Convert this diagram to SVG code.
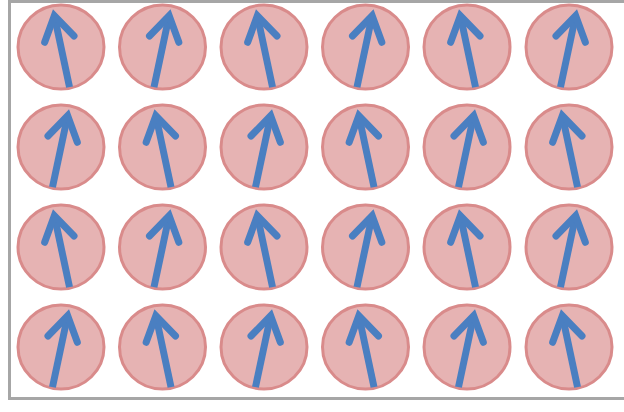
<svg xmlns="http://www.w3.org/2000/svg" width="624" height="412" viewBox="0 0 624 412">
<style>
.c{fill:#e6b3b3;stroke:#d98b8b;stroke-width:3}
.sh{fill:none;stroke:#4a7fc1;stroke-width:7;stroke-linecap:butt}
.hd{fill:none;stroke:#4a7fc1;stroke-width:7;stroke-linecap:round;stroke-linejoin:miter;stroke-miterlimit:10}
.frame{fill:#fff;stroke:#a6a6a6;stroke-width:3}
</style>
<defs>
<g id="spin">
<ellipse class="c" cx="0" cy="0" rx="43" ry="42"/>
</g>
<g id="arrow">
<path class="sh" d="M0,41 L0,-28"/>
<path class="hd" d="M-15,-8 L0,-32 L15,-8"/>
</g>
</defs>
<rect class="frame" x="9.5" y="1.5" width="620" height="397"/>
<g id="r1c1"><use href="#spin" x="61" y="47"/><use href="#arrow" transform="translate(61,47) rotate(-12)"/></g>
<g id="r1c2"><use href="#spin" x="162.5" y="47"/><use href="#arrow" transform="translate(162.5,47) rotate(12)"/></g>
<g id="r1c3"><use href="#spin" x="264" y="47"/><use href="#arrow" transform="translate(264,47) rotate(-12)"/></g>
<g id="r1c4"><use href="#spin" x="365.5" y="47"/><use href="#arrow" transform="translate(365.5,47) rotate(12)"/></g>
<g id="r1c5"><use href="#spin" x="467" y="47"/><use href="#arrow" transform="translate(467,47) rotate(-12)"/></g>
<g id="r1c6"><use href="#spin" x="569" y="47"/><use href="#arrow" transform="translate(569,47) rotate(12)"/></g>
<g id="r2c1"><use href="#spin" x="61" y="147"/><use href="#arrow" transform="translate(61,147) rotate(12)"/></g>
<g id="r2c2"><use href="#spin" x="162.5" y="147"/><use href="#arrow" transform="translate(162.5,147) rotate(-12)"/></g>
<g id="r2c3"><use href="#spin" x="264" y="147"/><use href="#arrow" transform="translate(264,147) rotate(12)"/></g>
<g id="r2c4"><use href="#spin" x="365.5" y="147"/><use href="#arrow" transform="translate(365.5,147) rotate(-12)"/></g>
<g id="r2c5"><use href="#spin" x="467" y="147"/><use href="#arrow" transform="translate(467,147) rotate(12)"/></g>
<g id="r2c6"><use href="#spin" x="569" y="147"/><use href="#arrow" transform="translate(569,147) rotate(-12)"/></g>
<g id="r3c1"><use href="#spin" x="61" y="247"/><use href="#arrow" transform="translate(61,247) rotate(-12)"/></g>
<g id="r3c2"><use href="#spin" x="162.5" y="247"/><use href="#arrow" transform="translate(162.5,247) rotate(12)"/></g>
<g id="r3c3"><use href="#spin" x="264" y="247"/><use href="#arrow" transform="translate(264,247) rotate(-12)"/></g>
<g id="r3c4"><use href="#spin" x="365.5" y="247"/><use href="#arrow" transform="translate(365.5,247) rotate(12)"/></g>
<g id="r3c5"><use href="#spin" x="467" y="247"/><use href="#arrow" transform="translate(467,247) rotate(-12)"/></g>
<g id="r3c6"><use href="#spin" x="569" y="247"/><use href="#arrow" transform="translate(569,247) rotate(12)"/></g>
<g id="r4c1"><use href="#spin" x="61" y="347"/><use href="#arrow" transform="translate(61,347) rotate(12)"/></g>
<g id="r4c2"><use href="#spin" x="162.5" y="347"/><use href="#arrow" transform="translate(162.5,347) rotate(-12)"/></g>
<g id="r4c3"><use href="#spin" x="264" y="347"/><use href="#arrow" transform="translate(264,347) rotate(12)"/></g>
<g id="r4c4"><use href="#spin" x="365.5" y="347"/><use href="#arrow" transform="translate(365.5,347) rotate(-12)"/></g>
<g id="r4c5"><use href="#spin" x="467" y="347"/><use href="#arrow" transform="translate(467,347) rotate(12)"/></g>
<g id="r4c6"><use href="#spin" x="569" y="347"/><use href="#arrow" transform="translate(569,347) rotate(-12)"/></g>
<g id="connectors"/>
</svg>
